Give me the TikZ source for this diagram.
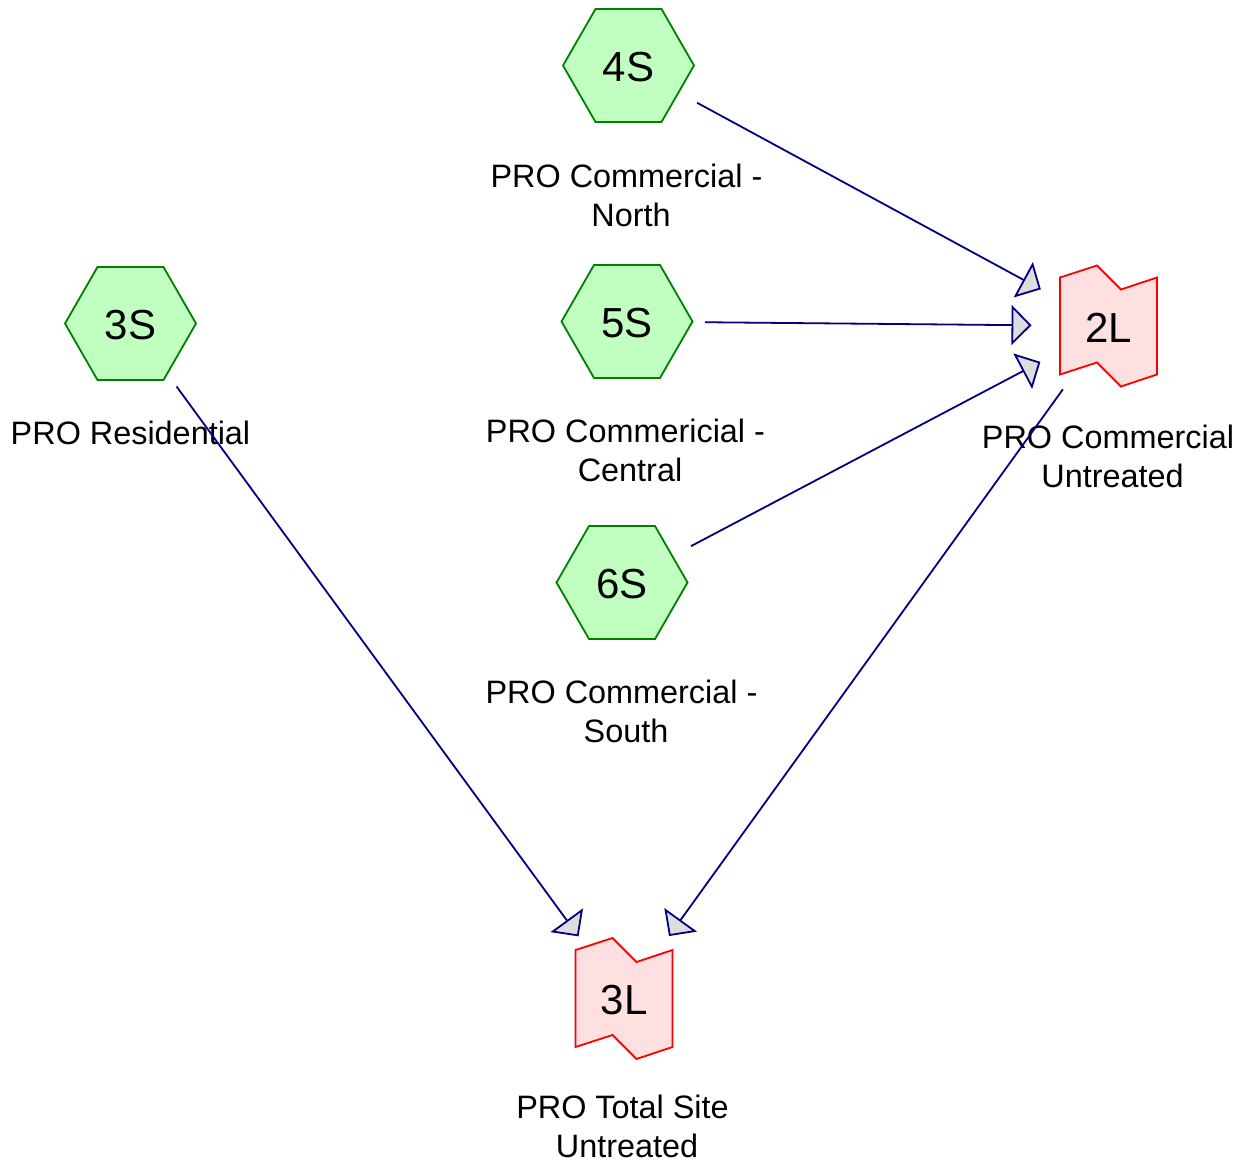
\documentclass[tikz,border=0pt]{standalone}
\usepackage{fontspec}
\setmainfont{Liberation Sans}
\usetikzlibrary{arrows.meta}
\definecolor{hexfill}{RGB}{192,255,192}
\definecolor{hexdraw}{RGB}{0,128,0}
\definecolor{tankfill}{RGB}{255,224,224}
\definecolor{tankdraw}{RGB}{255,0,0}
\definecolor{edgecol}{RGB}{0,0,128}
\definecolor{tipfill}{RGB}{221,221,221}
\newcommand\trailsp{\hspace*{0.278em}}
\tikzset{
  hexline/.style={draw=hexdraw,fill=hexfill,line width=1.8pt,line join=miter},
  tankline/.style={draw=tankdraw,fill=tankfill,line width=1.8pt,line join=miter},
  nodetext/.style={inner sep=0pt,font=\fontsize{42}{50}\selectfont},
  lbl/.style={inner sep=0pt,align=center,font=\fontsize{32.4}{39}\selectfont},
  edge/.style={draw=edgecol,line width=1.8pt,shorten <=78pt,shorten >=77pt,
    -{Triangle[length=20pt,width=40pt,fill=tipfill]}}
}
\newcommand\hexnode[3]{%
  \draw[hexline] (#2) ++(-65.5,0) -- ++(32.5,-56.5) -- ++(66,0) -- ++(32.5,56.5)
    -- ++(-32.5,56.5) -- ++(-66,0) -- cycle;
  \node[nodetext] (#1) at (#2) {\raisebox{-2pt}[\height][\depth]{#3}};}
\newcommand\tanknode[3]{%
  \draw[tankline] (#2) ++(-48.5,-48.5) -- ++(37,-12) -- ++(24,24) -- ++(36,-12)
    -- ++(0,97) -- ++(-36,12) -- ++(-24,-24) -- ++(-37,12) -- cycle;
  \node[nodetext] (#1) at (#2) {\raisebox{-2pt}[\height][\depth]{#3}};}
\begin{document}
\begin{tikzpicture}[x=1pt,y=-1pt]
\useasboundingbox (0,0) rectangle (1249,1164);
\hexnode{n4S}{628.5,65.5}{4S}
\hexnode{n5S}{627,321.5}{5S}
\hexnode{n6S}{622,582.5}{6S}
\hexnode{n3S}{130.5,323.5}{3S}
\tanknode{n2L}{1108.5,326}{2L}
\tanknode{n3L}{624,998.5}{3L}
\node[lbl] (l4S) at (631,195) {PRO Commercial -\trailsp\\North};
\node[lbl] (l5S) at (630,450.5) {PRO Commericial -\trailsp\\Central};
\node[lbl] (l6S) at (626,711) {PRO Commercial -\trailsp\\South};
\node[lbl] (l3S) at (130.5,433) {PRO Residential};
\node[lbl] (l2L) at (1112.5,456) {PRO Commercial\trailsp\\Untreated};
\node[lbl] (l3L) at (627,1126) {PRO Total Site\trailsp\\Untreated};
\draw[edge] (n4S.center) -- (n2L.center);
\draw[edge] (n5S.center) -- (n2L.center);
\draw[edge] (n6S.center) -- (n2L.center);
\draw[edge] (n3S.center) -- (n3L.center);
\draw[edge] (n2L.center) -- (n3L.center);
\end{tikzpicture}
\end{document}
